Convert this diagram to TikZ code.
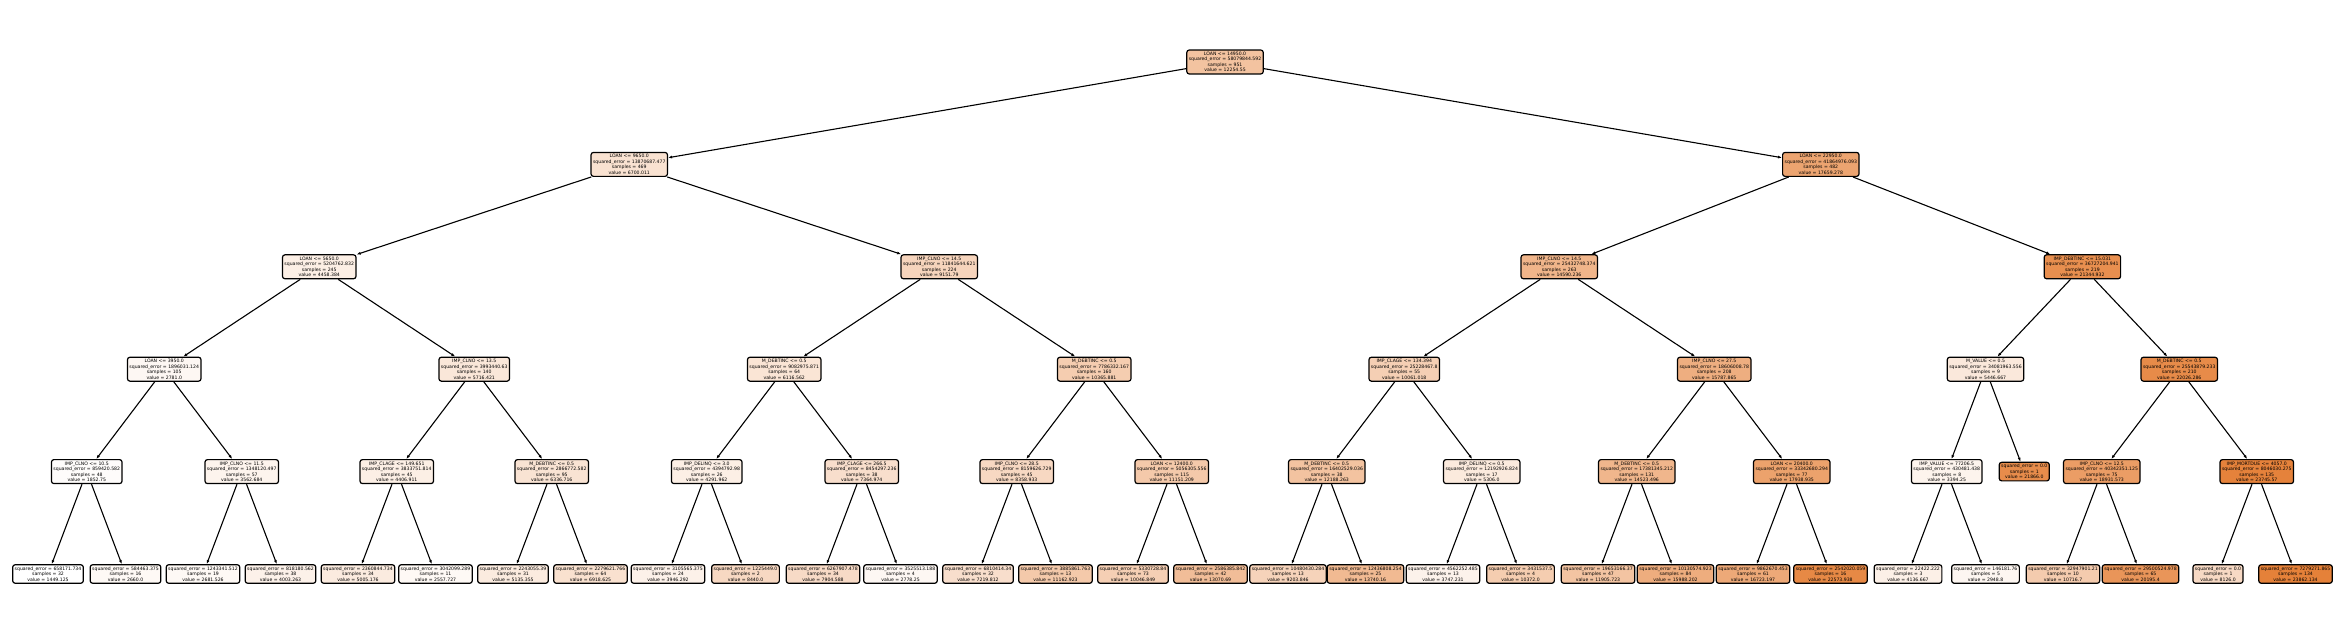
\documentclass[tikz,border=0pt]{standalone}
\usepackage{fontspec}
\setmainfont{DejaVu Sans}
\usepackage{tikz}
\usepackage{xcolor}
\usetikzlibrary{arrows.meta,positioning}
\definecolor{treeorange}{RGB}{229,129,57}
\tikzset{%
	split/.style = {draw, rectangle, rounded corners=2.5pt, line width=1.2pt, align=center, inner xsep=2pt, inner ysep=2pt, font=\fontsize{4.6}{5.5}\selectfont}, % Decision node
	leaf/.style  = {split}, % Leaf
	edge/.style  = {line width=1.1pt, -{Latex[length=4pt,width=3pt]}},
}

\begin{document}
\begin{tikzpicture}[x=77.5pt,y=102.4pt]
	\useasboundingbox (-48pt,62pt) rectangle (2297pt,-574pt);
	% depth 0-1
	\node [split,fill=treeorange!48!white] (root) at (15.1875,0) {LOAN <= 14950.0\\squared\_error = 58079844.592\\samples = 951\\value = 12254.55};
	\node [split,fill=treeorange!23!white] (l) at (7.5,-1) {LOAN <= 9650.0\\squared\_error = 13870687.477\\samples = 469\\value = 6700.011};
	\node [split,fill=treeorange!72!white] (r) at (22.875,-1) {LOAN <= 22950.0\\squared\_error = 41864976.093\\samples = 482\\value = 17659.278};
	% depth 2
	\node [split,fill=treeorange!13!white] (ll) at (3.5,-2) {LOAN <= 5650.0\\squared\_error = 5204762.832\\samples = 245\\value = 4458.384};
	\node [split,fill=treeorange!34!white] (lr) at (11.5,-2) {IMP\_CLNO <= 14.5\\squared\_error = 11841644.621\\samples = 224\\value = 9151.79};
	\node [split,fill=treeorange!59!white] (rl) at (19.5,-2) {IMP\_CLNO <= 14.5\\squared\_error = 25432748.374\\samples = 263\\value = 14590.236};
	\node [split,fill=treeorange!89!white] (rr) at (26.25,-2) {IMP\_DEBTINC <= 15.031\\squared\_error = 36727204.941\\samples = 219\\value = 21344.932};
	% depth 3
	\node [split,fill=treeorange!6!white] (lll) at (1.5,-3) {LOAN <= 3950.0\\squared\_error = 1896031.124\\samples = 105\\value = 2781.0};
	\node [split,fill=treeorange!19!white] (llr) at (5.5,-3) {IMP\_CLNO <= 13.5\\squared\_error = 3993440.63\\samples = 140\\value = 5716.421};
	\node [split,fill=treeorange!21!white] (lrl) at (9.5,-3) {M\_DEBTINC <= 0.5\\squared\_error = 9082975.871\\samples = 64\\value = 6116.562};
	\node [split,fill=treeorange!40!white] (lrr) at (13.5,-3) {M\_DEBTINC <= 0.5\\squared\_error = 7786332.167\\samples = 160\\value = 10365.881};
	\node [split,fill=treeorange!38!white] (rll) at (17.5,-3) {IMP\_CLAGE <= 134.394\\squared\_error = 25228467.8\\samples = 55\\value = 10061.018};
	\node [split,fill=treeorange!64!white] (rlr) at (21.5,-3) {IMP\_CLNO <= 27.5\\squared\_error = 18606008.78\\samples = 208\\value = 15787.865};
	\node [split,fill=treeorange!18!white] (rrl) at (25,-3) {M\_VALUE <= 0.5\\squared\_error = 34081963.556\\samples = 9\\value = 5446.667};
	\node [split,fill=treeorange!92!white] (rrr) at (27.5,-3) {M\_DEBTINC <= 0.5\\squared\_error = 25543879.233\\samples = 210\\value = 22026.286};
	% depth 4
	\node [split,fill=treeorange!2!white] (llll) at (0.5,-4) {IMP\_CLNO <= 10.5\\squared\_error = 859420.582\\samples = 48\\value = 1852.75};
	\node [split,fill=treeorange!9!white] (lllr) at (2.5,-4) {IMP\_CLNO <= 11.5\\squared\_error = 1348120.497\\samples = 57\\value = 3562.684};
	\node [split,fill=treeorange!13!white] (llrl) at (4.5,-4) {IMP\_CLAGE <= 149.651\\squared\_error = 3833751.814\\samples = 45\\value = 4406.911};
	\node [split,fill=treeorange!22!white] (llrr) at (6.5,-4) {M\_DEBTINC <= 0.5\\squared\_error = 2866772.582\\samples = 95\\value = 6336.716};
	\node [split,fill=treeorange!13!white] (lrll) at (8.5,-4) {IMP\_DELINQ <= 3.0\\squared\_error = 4394792.98\\samples = 26\\value = 4291.962};
	\node [split,fill=treeorange!26!white] (lrlr) at (10.5,-4) {IMP\_CLAGE <= 266.5\\squared\_error = 8454297.236\\samples = 38\\value = 7364.974};
	\node [split,fill=treeorange!31!white] (lrrl) at (12.5,-4) {IMP\_CLNO <= 28.5\\squared\_error = 8159626.729\\samples = 45\\value = 8358.933};
	\node [split,fill=treeorange!43!white] (lrrr) at (14.5,-4) {LOAN <= 12400.0\\squared\_error = 5056305.556\\samples = 115\\value = 11151.209};
	\node [split,fill=treeorange!48!white] (rlll) at (16.5,-4) {M\_DEBTINC <= 0.5\\squared\_error = 16402529.036\\samples = 38\\value = 12188.263};
	\node [split,fill=treeorange!17!white] (rllr) at (18.5,-4) {IMP\_DELINQ <= 0.5\\squared\_error = 12192926.824\\samples = 17\\value = 5306.0};
	\node [split,fill=treeorange!58!white] (rlrl) at (20.5,-4) {M\_DEBTINC <= 0.5\\squared\_error = 17381345.212\\samples = 131\\value = 14523.496};
	\node [split,fill=treeorange!74!white] (rlrr) at (22.5,-4) {LOAN <= 20400.0\\squared\_error = 33342680.294\\samples = 77\\value = 17938.935};
	\node [split,fill=treeorange!9!white] (rrll) at (24.5,-4) {IMP\_VALUE <= 77206.5\\squared\_error = 430481.438\\samples = 8\\value = 3394.25};
	\node [leaf,fill=treeorange!91!white] (rrlr) at (25.5,-4) {squared\_error = 0.0\\samples = 1\\value = 21866.0};
	\node [split,fill=treeorange!78!white] (rrrl) at (26.5,-4) {IMP\_CLNO <= 12.5\\squared\_error = 40342351.125\\samples = 75\\value = 18931.573};
	\node [split,fill=treeorange!99!white] (rrrr) at (28.5,-4) {IMP\_MORTDUE <= 4057.0\\squared\_error = 8046030.275\\samples = 135\\value = 23745.57};
	% depth 5
	\node [leaf,fill=treeorange!0!white] (lllll) at (0,-5) {squared\_error = 658171.734\\samples = 32\\value = 1449.125};
	\node [leaf,fill=treeorange!5!white] (llllr) at (1,-5) {squared\_error = 584463.375\\samples = 16\\value = 2660.0};
	\node [leaf,fill=treeorange!5!white] (lllrl) at (2,-5) {squared\_error = 1243341.512\\samples = 19\\value = 2681.526};
	\node [leaf,fill=treeorange!11!white] (lllrr) at (3,-5) {squared\_error = 818180.562\\samples = 38\\value = 4003.263};
	\node [leaf,fill=treeorange!16!white] (llrll) at (4,-5) {squared\_error = 2360844.734\\samples = 34\\value = 5005.176};
	\node [leaf,fill=treeorange!5!white] (llrlr) at (5,-5) {squared\_error = 3042099.289\\samples = 11\\value = 2557.727};
	\node [leaf,fill=treeorange!16!white] (llrrl) at (6,-5) {squared\_error = 2243055.39\\samples = 31\\value = 5135.355};
	\node [leaf,fill=treeorange!24!white] (llrrr) at (7,-5) {squared\_error = 2279621.766\\samples = 64\\value = 6918.625};
	\node [leaf,fill=treeorange!11!white] (lrlll) at (8,-5) {squared\_error = 3105565.375\\samples = 24\\value = 3946.292};
	\node [leaf,fill=treeorange!31!white] (lrllr) at (9,-5) {squared\_error = 1225449.0\\samples = 2\\value = 8440.0};
	\node [leaf,fill=treeorange!29!white] (lrlrl) at (10,-5) {squared\_error = 6267907.478\\samples = 34\\value = 7904.588};
	\node [leaf,fill=treeorange!6!white] (lrlrr) at (11,-5) {squared\_error = 3525513.188\\samples = 4\\value = 2778.25};
	\node [leaf,fill=treeorange!26!white] (lrrll) at (12,-5) {squared\_error = 6810414.34\\samples = 32\\value = 7219.812};
	\node [leaf,fill=treeorange!43!white] (lrrlr) at (13,-5) {squared\_error = 3885861.763\\samples = 13\\value = 11162.923};
	\node [leaf,fill=treeorange!38!white] (lrrrl) at (14,-5) {squared\_error = 5330728.84\\samples = 73\\value = 10046.849};
	\node [leaf,fill=treeorange!52!white] (lrrrr) at (15,-5) {squared\_error = 2586385.842\\samples = 42\\value = 13070.69};
	\node [leaf,fill=treeorange!35!white] (rllll) at (16,-5) {squared\_error = 10480430.284\\samples = 13\\value = 9203.846};
	\node [leaf,fill=treeorange!55!white] (rlllr) at (17,-5) {squared\_error = 12436808.254\\samples = 25\\value = 13740.16};
	\node [leaf,fill=treeorange!10!white] (rllrl) at (18,-5) {squared\_error = 4562252.485\\samples = 13\\value = 3747.231};
	\node [leaf,fill=treeorange!40!white] (rllrr) at (19,-5) {squared\_error = 3431537.5\\samples = 4\\value = 10372.0};
	\node [leaf,fill=treeorange!47!white] (rlrll) at (20,-5) {squared\_error = 19653166.37\\samples = 47\\value = 11905.723};
	\node [leaf,fill=treeorange!65!white] (rlrlr) at (21,-5) {squared\_error = 10130574.923\\samples = 84\\value = 15988.202};
	\node [leaf,fill=treeorange!68!white] (rlrrl) at (22,-5) {squared\_error = 9862670.453\\samples = 61\\value = 16723.197};
	\node [leaf,fill=treeorange!94!white] (rlrrr) at (23,-5) {squared\_error = 2542020.059\\samples = 16\\value = 22573.938};
	\node [leaf,fill=treeorange!12!white] (rrlll) at (24,-5) {squared\_error = 22422.222\\samples = 3\\value = 4136.667};
	\node [leaf,fill=treeorange!7!white] (rrllr) at (25,-5) {squared\_error = 146181.76\\samples = 5\\value = 2948.8};
	\node [leaf,fill=treeorange!41!white] (rrrll) at (26,-5) {squared\_error = 32947901.21\\samples = 10\\value = 10716.7};
	\node [leaf,fill=treeorange!84!white] (rrrlr) at (27,-5) {squared\_error = 29500524.978\\samples = 65\\value = 20195.4};
	\node [leaf,fill=treeorange!30!white] (rrrrl) at (28,-5) {squared\_error = 0.0\\samples = 1\\value = 8126.0};
	\node [leaf,fill=treeorange!100!white] (rrrrr) at (29,-5) {squared\_error = 7279271.865\\samples = 134\\value = 23862.134};

	\draw[edge] (root) -- (l); \draw[edge] (root) -- (r);
	\draw[edge] (l) -- (ll); \draw[edge] (l) -- (lr);
	\draw[edge] (r) -- (rl); \draw[edge] (r) -- (rr);
	\draw[edge] (ll) -- (lll); \draw[edge] (ll) -- (llr);
	\draw[edge] (lr) -- (lrl); \draw[edge] (lr) -- (lrr);
	\draw[edge] (rl) -- (rll); \draw[edge] (rl) -- (rlr);
	\draw[edge] (rr) -- (rrl); \draw[edge] (rr) -- (rrr);
	\draw[edge] (lll) -- (llll); \draw[edge] (lll) -- (lllr);
	\draw[edge] (llr) -- (llrl); \draw[edge] (llr) -- (llrr);
	\draw[edge] (lrl) -- (lrll); \draw[edge] (lrl) -- (lrlr);
	\draw[edge] (lrr) -- (lrrl); \draw[edge] (lrr) -- (lrrr);
	\draw[edge] (rll) -- (rlll); \draw[edge] (rll) -- (rllr);
	\draw[edge] (rlr) -- (rlrl); \draw[edge] (rlr) -- (rlrr);
	\draw[edge] (rrl) -- (rrll); \draw[edge] (rrl) -- (rrlr);
	\draw[edge] (rrr) -- (rrrl); \draw[edge] (rrr) -- (rrrr);
	\draw[edge] (llll) -- (lllll); \draw[edge] (llll) -- (llllr);
	\draw[edge] (lllr) -- (lllrl); \draw[edge] (lllr) -- (lllrr);
	\draw[edge] (llrl) -- (llrll); \draw[edge] (llrl) -- (llrlr);
	\draw[edge] (llrr) -- (llrrl); \draw[edge] (llrr) -- (llrrr);
	\draw[edge] (lrll) -- (lrlll); \draw[edge] (lrll) -- (lrllr);
	\draw[edge] (lrlr) -- (lrlrl); \draw[edge] (lrlr) -- (lrlrr);
	\draw[edge] (lrrl) -- (lrrll); \draw[edge] (lrrl) -- (lrrlr);
	\draw[edge] (lrrr) -- (lrrrl); \draw[edge] (lrrr) -- (lrrrr);
	\draw[edge] (rlll) -- (rllll); \draw[edge] (rlll) -- (rlllr);
	\draw[edge] (rllr) -- (rllrl); \draw[edge] (rllr) -- (rllrr);
	\draw[edge] (rlrl) -- (rlrll); \draw[edge] (rlrl) -- (rlrlr);
	\draw[edge] (rlrr) -- (rlrrl); \draw[edge] (rlrr) -- (rlrrr);
	\draw[edge] (rrll) -- (rrlll); \draw[edge] (rrll) -- (rrllr);
	\draw[edge] (rrrl) -- (rrrll); \draw[edge] (rrrl) -- (rrrlr);
	\draw[edge] (rrrr) -- (rrrrl); \draw[edge] (rrrr) -- (rrrrr);
\end{tikzpicture}
\end{document}
